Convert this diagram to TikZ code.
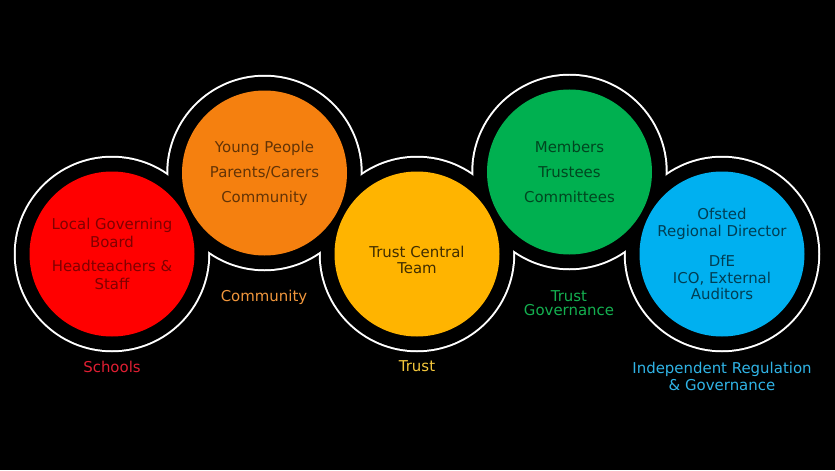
\documentclass[tikz,border=0pt]{standalone}
\usepackage{fontspec}
\setmainfont{DejaVu Sans}
\usetikzlibrary{positioning}
\definecolor{cred}{HTML}{FF0000}
\definecolor{corange}{HTML}{F5800F}
\definecolor{cyellow}{HTML}{FFB400}
\definecolor{cgreen}{HTML}{00B050}
\definecolor{cblue}{HTML}{00B0F0}
\definecolor{lred}{HTML}{E01E32}
\definecolor{lorange}{HTML}{F0963C}
\definecolor{lyellow}{HTML}{F5C83C}
\definecolor{lgreen}{HTML}{14B050}
\definecolor{lblue}{HTML}{30B4E6}

\begin{document}
\begin{tikzpicture}[
    every node/.style={font=\fontsize{8.5}{10}\selectfont},
    disc/.style={circle, minimum size=3.30cm, inner sep=0pt, align=center},
    caption/.style={align=center, inner sep=0pt},
]

\useasboundingbox (0,0) rectangle (16.70,9.40);
\fill[black] (0,0) rectangle (16.70,9.40);

% ================================================ white rings (outline of the union)
\foreach \x/\y in {2.24/4.32, 5.29/5.94, 8.34/4.32, 11.39/5.96, 14.44/4.32}{
    \fill[white] (\x,\y) circle (1.965);
}
\foreach \x/\y in {2.24/4.32, 5.29/5.94, 8.34/4.32, 11.39/5.96, 14.44/4.32}{
    \fill[black] (\x,\y) circle (1.925);
}

% ================================================ the five groups
\node[disc, fill=cred, text=cred!50!black] (schools) at (2.24,4.32)
    {Local Governing\\Board\\[3.7pt]Headteachers \&\\Staff};
\node[disc, fill=corange, text=corange!40!black] (community) at (5.29,5.94)
    {Young People\\[4.2pt]Parents/Carers\\[4.2pt]Community};
\node[disc, fill=cyellow, text=cyellow!25!black,
      font=\fontsize{8.5}{9.2}\selectfont] (trust) at (8.34,4.32)
    {\rule{0pt}{13pt}Trust Central\\Team};
\node[disc, fill=cgreen, text=cgreen!40!black] (governance) at (11.39,5.96)
    {Members\\[4.2pt]Trustees\\[4.2pt]Committees};
\node[disc, fill=cblue, text=cblue!35!black,
      font=\fontsize{8.5}{9.2}\selectfont] (regulation) at (14.44,4.32)
    {Ofsted\\Regional Director\\[8.4pt]DfE\\ICO, External\\Auditors};

% ================================================ captions
\node[caption, text=lred] (lschools) at (2.24,2.07) {Schools};
\node[caption, text=lorange] (lcommunity) at (5.28,3.45) {Community};
\node[caption, text=lyellow] (ltrust) at (8.34,2.07) {Trust};
\node[caption, text=lgreen, font=\fontsize{8.5}{8}\selectfont] (lgovernance) at (11.38,3.33)
    {Trust\\Governance};
\node[caption, text=lblue, font=\fontsize{8.5}{9.7}\selectfont] (lregulation) at (14.44,1.87)
    {Independent Regulation\\\& Governance};

\end{tikzpicture}
\end{document}
